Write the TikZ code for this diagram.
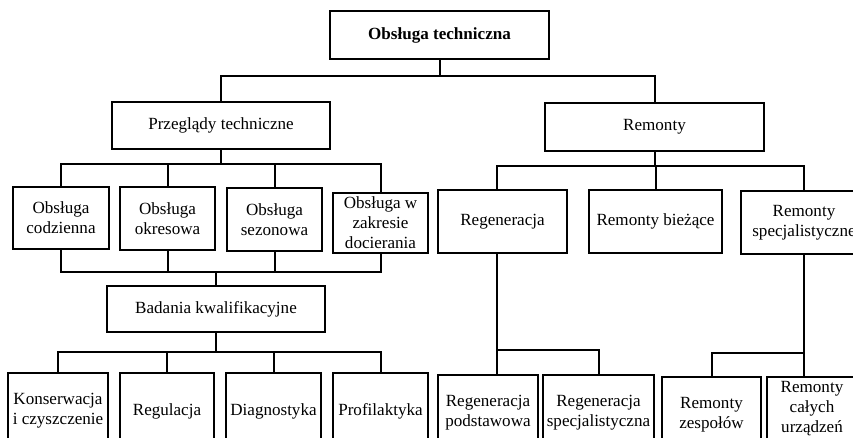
\documentclass[tikz,border=0pt]{standalone}
\usepackage{fontspec}
\setmainfont{Liberation Serif}
\begin{document}
\begin{tikzpicture}[x=0.75pt,y=-0.75pt,
  box/.style={draw=black, line width=1.6pt, inner sep=1pt, align=center,
    font=\fontsize{12.8pt}{15pt}\selectfont, fill=white},
  wh/.style 2 args={minimum width=#1*0.75pt, minimum height=#2*0.75pt},
  conn/.style={draw=black, line width=1.5pt}]
\useasboundingbox (0,0) rectangle (853,437);
\fill[white] (0,0) rectangle (853,437);
\clip (0,0) rectangle (853,437);

% level 1
\node[box, wh={219}{48}, font=\fontsize{12.8pt}{15pt}\selectfont\bfseries] (top) at (439.5,35) {Obsługa techniczna};
% level 2
\node[box, wh={218}{47}] (prz) at (221,125.5) {Przeglądy techniczne};
\node[box, wh={219}{48}] (rem) at (654.5,127) {Remonty};
% level 3 left
\node[box, wh={96}{62}] (oc) at (61,218) {Obsługa\\codzienna};
\node[box, wh={95}{63}] (oo) at (167.5,218.5) {Obsługa\\okresowa};
\node[box, wh={95}{63}] (os) at (274.5,219.5) {Obsługa\\sezonowa};
\node[box, wh={95}{60}] (ozd) at (380.5,223) {Obsługa w\\zakresie\\docierania};
% level 3 right
\node[box, wh={129}{63}] (regen) at (502.5,221.5) {Regeneracja};
\node[box, wh={133}{63}] (rb) at (655.5,221.5) {Remonty bieżące};
\node[box, wh={126}{63}] (rs) at (804,222.5) {Remonty\\specjalistyczne};
% badania
\node[box, wh={218}{46}] (bad) at (216,309) {Badania kwalifikacyjne};
% bottom row left
\node[box, wh={100}{76}] (kon) at (58,411) {Konserwacja\\i czyszczenie};
\node[box, wh={94}{76}] (reg) at (167,411) {Regulacja};
\node[box, wh={95}{76}] (diag) at (273.5,411) {Diagnostyka};
\node[box, wh={95}{76}] (prof) at (380.5,411) {Profilaktyka};
% bottom row right
\node[box, wh={100}{76}] (rp) at (488,413) {Regeneracja\\podstawowa};
\node[box, wh={111}{76}] (rsp) at (598.5,413) {Regeneracja\\specjalistyczna};
\node[box, wh={99}{76}] (rz) at (711.5,415) {Remonty\\zespołów};
\node[box, wh={90}{64}] (rcu) at (812,409) {Remonty\\całych\\urządzeń};

% bus coordinates
\coordinate (busA) at (0,76);
\coordinate (busB) at (0,164);
\coordinate (busC) at (0,272);
\coordinate (busD) at (0,352);
\coordinate (busE) at (0,166);
\coordinate (busF) at (0,350);
\coordinate (busG) at (0,353);
\coordinate (xR) at (497,0);

% connectors
\draw[conn] (top.south) -- (top.south |- busA);
\draw[conn] (prz.north) |- (rem.north |- busA) -- (rem.north);

\draw[conn] (prz.south) -- (prz.south |- busB);
\draw[conn] (oc.north) |- (ozd.north |- busB) -- (ozd.north);
\draw[conn] (oo.north) -- (oo.north |- busB);
\draw[conn] (os.north) -- (os.north |- busB);

\draw[conn] (oc.south) |- (ozd.south |- busC) -- (ozd.south);
\draw[conn] (oo.south) -- (oo.south |- busC);
\draw[conn] (os.south) -- (os.south |- busC);
\draw[conn] (bad.north) -- (bad.north |- busC);

\draw[conn] (bad.south) -- (bad.south |- busD);
\draw[conn] (kon.north) |- (prof.north |- busD) -- (prof.north);
\draw[conn] (reg.north) -- (reg.north |- busD);
\draw[conn] (diag.north) -- (diag.north |- busD);

\draw[conn] (rem.south) -- (rem.south |- busE);
\draw[conn] (xR |- regen.north) |- (rs.north |- busE) -- (rs.north);
\draw[conn] (rb.north) -- (rb.north |- busE);

\draw[conn] (xR |- regen.south) -- (xR |- rp.north);
\draw[conn] (xR |- busF) -| (rsp.north);

\draw[conn] (rs.south) -- (rs.south |- rcu.north);
\draw[conn] (rz.north) |- (rs.south |- busG);
\end{tikzpicture}
\end{document}
